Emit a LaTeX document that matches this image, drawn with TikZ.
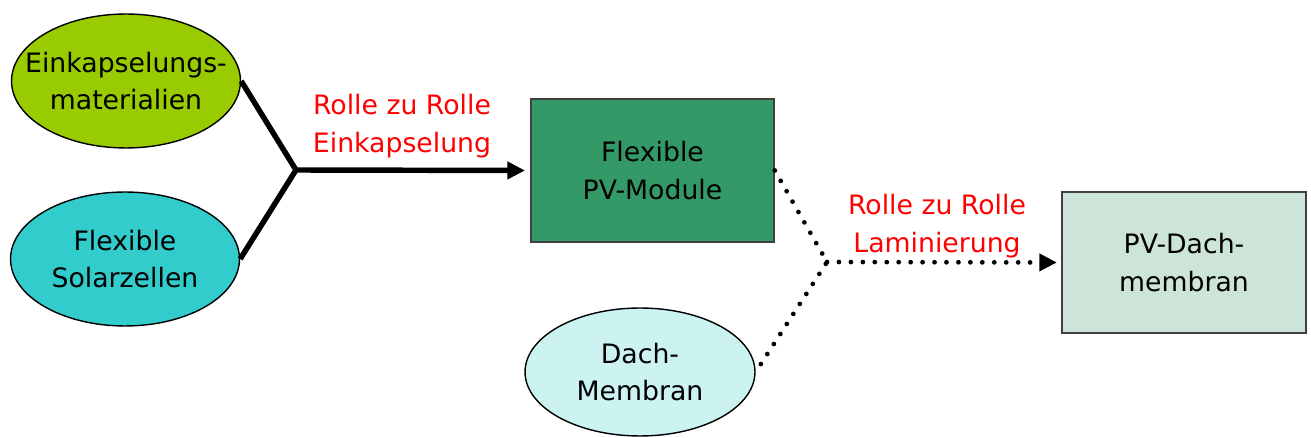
\documentclass[tikz,border=0pt]{standalone}
\usepackage{fontspec}
\setmainfont{DejaVu Sans}
\usetikzlibrary{shapes.geometric,arrows.meta}
\definecolor{matgreen}{HTML}{99CC00}
\definecolor{cellcyan}{HTML}{33CCCC}
\definecolor{modgreen}{HTML}{339966}
\definecolor{roofcyan}{HTML}{CCF2F2}
\definecolor{pvlight}{HTML}{CCE5D8}
\begin{document}
\begin{tikzpicture}[x=0.02cm,y=-0.02cm,
  font=\fontsize{15.2}{21.5}\selectfont,
  inputell/.style={ellipse,draw=black,line width=0.8pt,inner xsep=-12pt,inner ysep=0pt,align=center},
  prodbox/.style={rectangle,draw=black!75,line width=0.9pt,inner sep=0pt,align=center},
  proclabel/.style={text=red,align=center},
  solidline/.style={line width=3.1pt},
  dotline/.style={line width=2.7pt,line cap=round,dash pattern=on 0pt off 6.8pt}]
\useasboundingbox (0,0) rectangle (1311,438);
% inputs of the first step
\node[inputell,fill=matgreen,minimum width=4.58cm,minimum height=2.68cm] (mat) at (126,81) {Einkapselungs-\\materialien};
\node[inputell,fill=cellcyan,minimum width=4.58cm,minimum height=2.68cm] (cells) at (125,259) {Flexible\\Solarzellen};
\coordinate (join1) at (296,170);
% first product
\node[prodbox,fill=modgreen,minimum width=4.86cm,minimum height=2.86cm] (module) at (652.5,170.5) {Flexible\\PV-Module};
\node[inputell,fill=roofcyan,minimum width=4.6cm,minimum height=2.56cm] (roof) at (640,372) {Dach-\\Membran};
\coordinate (join2) at (827,262);
% final product
\node[prodbox,fill=pvlight,minimum width=4.88cm,minimum height=2.82cm] (pvroof) at (1184,262.5) {PV-Dach-\\membran};
% process labels
\node[proclabel] (step1) at (402,126) {Rolle zu Rolle\\Einkapselung};
\node[proclabel] (step2) at (937,226) {Rolle zu Rolle\\Laminierung};
% connectors
\draw[solidline] (mat.east) -- (join1) -- (cells.east);
\draw[solidline,shorten >=3pt,-{Triangle[length=10pt,width=9.6pt]}] (join1) -- (module.west);
\draw[dotline] (module.east) -- (join2) -- (roof.east);
\draw[dotline,shorten >=2.5pt,-{Triangle[length=10pt,width=9.6pt]}] (join2) -- (pvroof.west);
\end{tikzpicture}
\end{document}
